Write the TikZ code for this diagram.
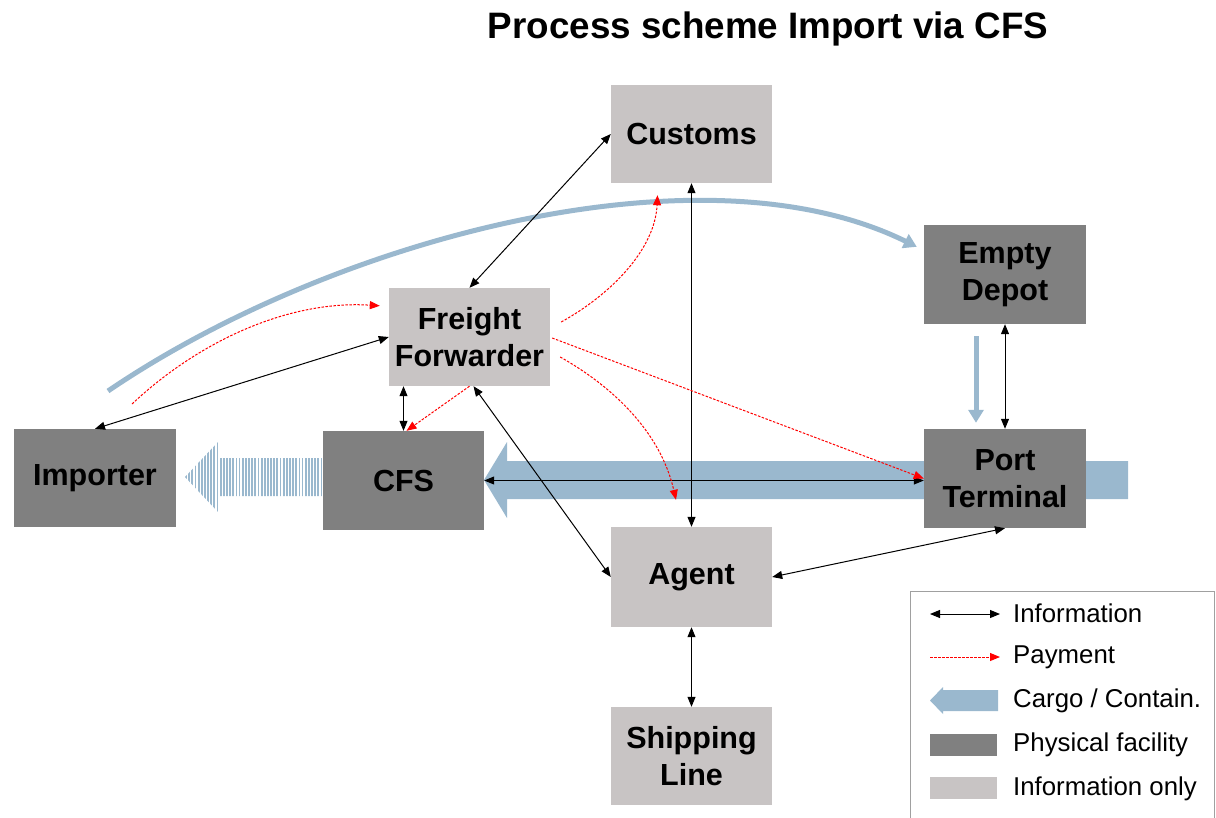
\documentclass[tikz,border=0pt]{standalone}
\usepackage{fontspec}
\setmainfont{Liberation Sans}
\usetikzlibrary{arrows.meta,calc}
\definecolor{lightbox}{HTML}{C8C4C4}
\definecolor{darkbox}{HTML}{808080}
\definecolor{cargo}{HTML}{9AB8CE}
\definecolor{frame}{HTML}{A0A0A0}
\begin{document}
\begin{tikzpicture}[x=1pt,y=-1pt,
  box/.style={rectangle, minimum width=161pt, minimum height=98pt, inner sep=0pt,
    align=center, font=\bfseries\fontsize{30.5}{37}\selectfont, text=black},
  phys/.style={box, fill=darkbox},
  infobox/.style={box, fill=lightbox},
  info/.style={draw=black, line width=1pt,
    {Triangle[length=10pt,width=8pt]}-{Triangle[length=10pt,width=8pt]}},
  pay/.style={draw=red, line width=1pt, dash pattern=on 2.5pt off 1.5pt,
    -{Triangle[length=10pt,width=8pt]}},
  cargoline/.style={draw=cargo, line width=5pt, -{Triangle[length=13pt,width=15pt]}},
  legtext/.style={anchor=west, inner sep=0pt, font=\fontsize{25.8}{30}\selectfont}
]
\useasboundingbox (0,0) rectangle (1216,817);

% big cargo arrow
\fill[cargo] (1128,461) -- (507,461) -- (507,442) -- (484,480) -- (507,518) -- (507,499) -- (1128,499) -- cycle;

% striped arrow CFS -> Importer
\begin{scope}
  \clip (322,458) -- (219,458) -- (219,441) -- (185,477) -- (219,513) -- (219,496) -- (322,496) -- cycle;
  \foreach \i in {0,...,43} {
    \draw[cargo, line width=1.8pt] ({186+\i*3.15},430) -- ({186+\i*3.15},520);
  }
\end{scope}

% title
\node[font=\bfseries\fontsize{36.8}{42}\selectfont] (title) at (768,29) {Process scheme Import via CFS};

% boxes
\node[infobox] (customs) at (691.5,134) {Customs};
\node[infobox] (ff) at (469.5,337) {Freight\\Forwarder};
\node[phys, minimum width=162pt, minimum height=99pt] (depot) at (1005,274.5) {Empty\\Depot};
\node[phys, minimum width=162pt] (importer) at (95,478) {Importer};
\node[phys, minimum height=99pt] (cfs) at (403.5,480.5) {CFS};
\node[phys, minimum width=162pt, minimum height=99pt] (port) at (1005,478.5) {Port\\Terminal};
\node[infobox, minimum height=100pt] (agent) at (691.5,577) {Agent};
\node[infobox] (ship) at (691.5,756) {Shipping\\Line};

% blue cargo connectors
\coordinate (cstart) at (108,391);
\draw[cargoline] (cstart) .. controls (330,240) and (700,140) .. ($(depot.north west)+(-7,22)$);
\draw[cargoline] ($(depot.south)+(-29,12)$) -- ($(port.north)+(-29,-6)$);

% information connectors
\draw[info] (ff.north) -- (customs.west);
\draw[info] (customs.south) -- (agent.north);
\draw[info] (importer.north) -- (ff.west);
\draw[info] (cfs.north |- ff.south) -- (cfs.north);
\draw[info] ($(ff.south)+(4,0)$) -- (agent.west);
\draw[info] (cfs.east) -- (cfs.east -| port.west);
\draw[info] (agent.east) -- (port.south);
\draw[info] (depot.south) -- (port.north);
\draw[info] (agent.south) -- (ship.north);

% payment connectors
\coordinate (pstart) at (132,404);
\draw[pay] (pstart) .. controls (200,340) and (290,300) .. ($(ff.north west)+(-9,18)$);
\draw[pay] ($(ff.east)+(11,-15)$) .. controls (610,295) and (655,250) .. ($(customs.south)+(-34,12)$);
\draw[pay] ($(ff.east)+(2,1)$) -- (port.west);
\draw[pay] ($(ff.east)+(10,20)$) .. controls (610,385) and (660,430) .. ($(agent.north)+(-15.5,-27)$);
\draw[pay] (ff.south) -- ($(cfs.north)+(3,0)$);

% legend
\draw[frame, line width=1pt] (910,830) -- (910,591) -- (1214,591) -- (1214,830);
\coordinate (l1a) at (930,614); \coordinate (l1b) at (1000,614);
\draw[info] (l1a) -- (l1b);
\node[legtext] (t1) at (1013,613) {Information};
\coordinate (l2a) at (930,657); \coordinate (l2b) at (1000,657);
\draw[pay] (l2a) -- (l2b);
\node[legtext] (t2) at (1013,657) {Payment};
\fill[cargo] (998,690) -- (943,690) -- (943,687) -- (930,700.5) -- (943,714) -- (943,711) -- (998,711) -- cycle;
\node[legtext] (t3) at (1013,701) {Cargo / Contain.};
\fill[darkbox] (930,734) rectangle (997,756);
\node[legtext] (t4) at (1013,745) {Physical facility};
\fill[lightbox] (930,777) rectangle (997,799);
\node[legtext] (t5) at (1013,789) {Information only};
\end{tikzpicture}
\end{document}
